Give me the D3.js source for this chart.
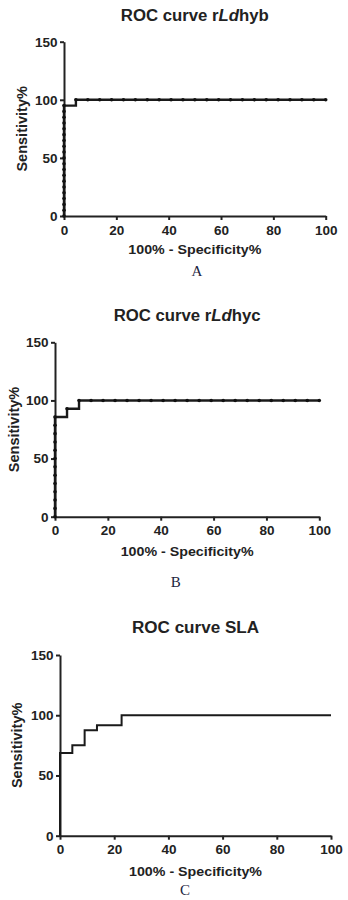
<!DOCTYPE html>
<html>
<head>
<meta charset="utf-8">
<script src="https://cdn.jsdelivr.net/npm/d3@7"></script>
<style>
  body { margin: 0; background: #fff; }
  svg { display: block; }
  .axis text { font-family: "Liberation Sans", Arial, sans-serif; font-weight: bold; font-size: 13.5px; fill: #222; }
  .axis path, .axis line { stroke: #222; stroke-width: 2px; }
</style>
</head>
<body>
<div id="chart"></div>
<script>
// ROC points: 100% - specificity (x) and sensitivity (y)
var fprA = [0, 0, 0, 0, 0, 0, 0, 0, 0, 0, 0, 0, 0, 0, 0, 0, 0, 0, 0, 0,
    4.55, 9.09, 13.64, 18.18, 22.73, 27.27, 31.82, 36.36, 40.91, 45.45, 50,
    54.55, 59.09, 63.64, 68.18, 72.73, 77.27, 81.82, 86.36, 90.91, 95.45, 100];
var sensA = [0, 5, 10, 15, 20, 25, 30, 35, 40, 45, 50, 55, 60, 65, 70, 75, 80, 85, 90, 95,
    100, 100, 100, 100, 100, 100, 100, 100, 100, 100, 100,
    100, 100, 100, 100, 100, 100, 100, 100, 100, 100, 100];

var fprB = [0, 0, 0, 0, 0, 0, 0, 0, 0, 0, 0, 0, 0,
    4.55, 9.09, 13.64, 18.18, 22.73, 27.27, 31.82, 36.36, 40.91, 45.45, 50,
    54.55, 59.09, 63.64, 68.18, 72.73, 77.27, 81.82, 86.36, 90.91, 95.45, 100];
var sensB = [0, 7.14, 14.29, 21.43, 28.57, 35.71, 42.86, 50, 57.14, 64.29, 71.43, 78.57, 85.71,
    92.86, 100, 100, 100, 100, 100, 100, 100, 100, 100, 100,
    100, 100, 100, 100, 100, 100, 100, 100, 100, 100, 100];

var fprC = [0, 0, 4.55, 9.09, 13.64, 22.73, 100];
var sensC = [0, 68.75, 75, 87.5, 91.7, 100, 100];

var xTicks = [0, 20, 40, 60, 80, 100];
var yTicks = [0, 50, 100, 150];

var titles = [["ROC curve r", "Ld", "hyb"], ["ROC curve r", "Ld", "hyc"], ["ROC curve SLA", "", ""]];
var letters = ["A", "B", "C"];

var svgW = 348, svgH = 900;

// panel layout (title width, text is a bit stretched there)
var panels = [
    { x: fprA, y: sensA, dots: true, left: 64, right: 325.7, top: 41.7, bottom: 216,
      titleY: 20.7, titleW: 148, xLabY: 254, yLabX: 27, letterX: 197, letterY: 276 },
    { x: fprB, y: sensB, dots: true, left: 55, right: 319.3, top: 342.3, bottom: 516.7,
      titleY: 320.5, titleW: 147, xLabY: 556, yLabX: 18.5, letterX: 175.7, letterY: 587 },
    { x: fprC, y: sensC, dots: false, left: 60, right: 331, top: 655, bottom: 835.7,
      titleY: 633, titleW: 127, xLabY: 876, yLabX: 21.5, letterX: 185, letterY: 895 }
];

var svg = d3.select("#chart")
    .append("svg")
    .attr("width", svgW)
    .attr("height", svgH);

panels.forEach(function(p, i) {
    var xScale = d3.scaleLinear().domain([0, 100]).range([p.left, p.right]);
    var yScale = d3.scaleLinear().domain([0, 150]).range([p.bottom, p.top]);
    var cx = (p.left + p.right) / 2;
    var g = svg.append("g");

    var xAxis = d3.axisBottom(xScale).tickValues(xTicks).tickSize(4).tickPadding(5).tickSizeOuter(0);
    var yAxis = d3.axisLeft(yScale).tickValues(yTicks).tickSize(4).tickPadding(2.5).tickSizeOuter(0);

    g.append("g")
        .attr("class", "axis")
        .attr("transform", "translate(0," + p.bottom + ")")
        .call(xAxis);
    g.append("g")
        .attr("class", "axis")
        .attr("transform", "translate(" + p.left + ",0)")
        .call(yAxis);

    var pts = p.x.map(function(v, k) { return [v, p.y[k]]; });

    var line = d3.line()
        .x(function(d) { return xScale(d[0]); })
        .y(function(d) { return yScale(d[1]); })
        .curve(d3.curveStepAfter);

    g.append("path")
        .datum(pts)
        .attr("d", line)
        .attr("fill", "none")
        .attr("stroke", "#1a1a1a")
        .attr("stroke-width", p.dots ? 2.4 : 2)
        .attr("stroke-linejoin", "miter");

    if (p.dots) {
        g.selectAll(".dot")
            .data(pts)
            .enter()
            .append("circle")
            .attr("class", "dot")
            .attr("cx", function(d) { return xScale(d[0]); })
            .attr("cy", function(d) { return yScale(d[1]); })
            .attr("r", 1.8)
            .attr("fill", "#111");
    }

    // title with italic part
    var t = g.append("text")
        .attr("x", cx)
        .attr("y", p.titleY)
        .attr("text-anchor", "middle")
        .attr("textLength", p.titleW)
        .attr("lengthAdjust", "spacingAndGlyphs")
        .style("font-family", "'Liberation Sans', Arial, sans-serif")
        .style("font-weight", "bold")
        .style("font-size", "16px")
        .style("fill", "#222");
    t.append("tspan").text(titles[i][0]);
    if (titles[i][1]) {
        t.append("tspan").style("font-style", "italic").text(titles[i][1]);
        t.append("tspan").text(titles[i][2]);
    }

    g.append("text")
        .attr("x", cx)
        .attr("y", p.xLabY)
        .attr("text-anchor", "middle")
        .attr("textLength", 133)
        .attr("lengthAdjust", "spacingAndGlyphs")
        .style("font-family", "'Liberation Sans', Arial, sans-serif")
        .style("font-weight", "bold")
        .style("font-size", "13.5px")
        .style("fill", "#222")
        .text("100% - Specificity%");

    g.append("text")
        .attr("transform", "translate(" + p.yLabX + "," + ((p.top + p.bottom) / 2) + ") rotate(-90)")
        .attr("text-anchor", "middle")
        .style("font-family", "'Liberation Sans', Arial, sans-serif")
        .style("font-weight", "bold")
        .style("font-size", "14.5px")
        .style("fill", "#222")
        .text("Sensitivity%");

    g.append("text")
        .attr("x", p.letterX)
        .attr("y", p.letterY)
        .attr("text-anchor", "middle")
        .style("font-family", "'Liberation Serif', 'Times New Roman', serif")
        .style("font-size", "15px")
        .style("fill", "#1c2440")
        .text(letters[i]);
});
</script>
</body>
</html>
